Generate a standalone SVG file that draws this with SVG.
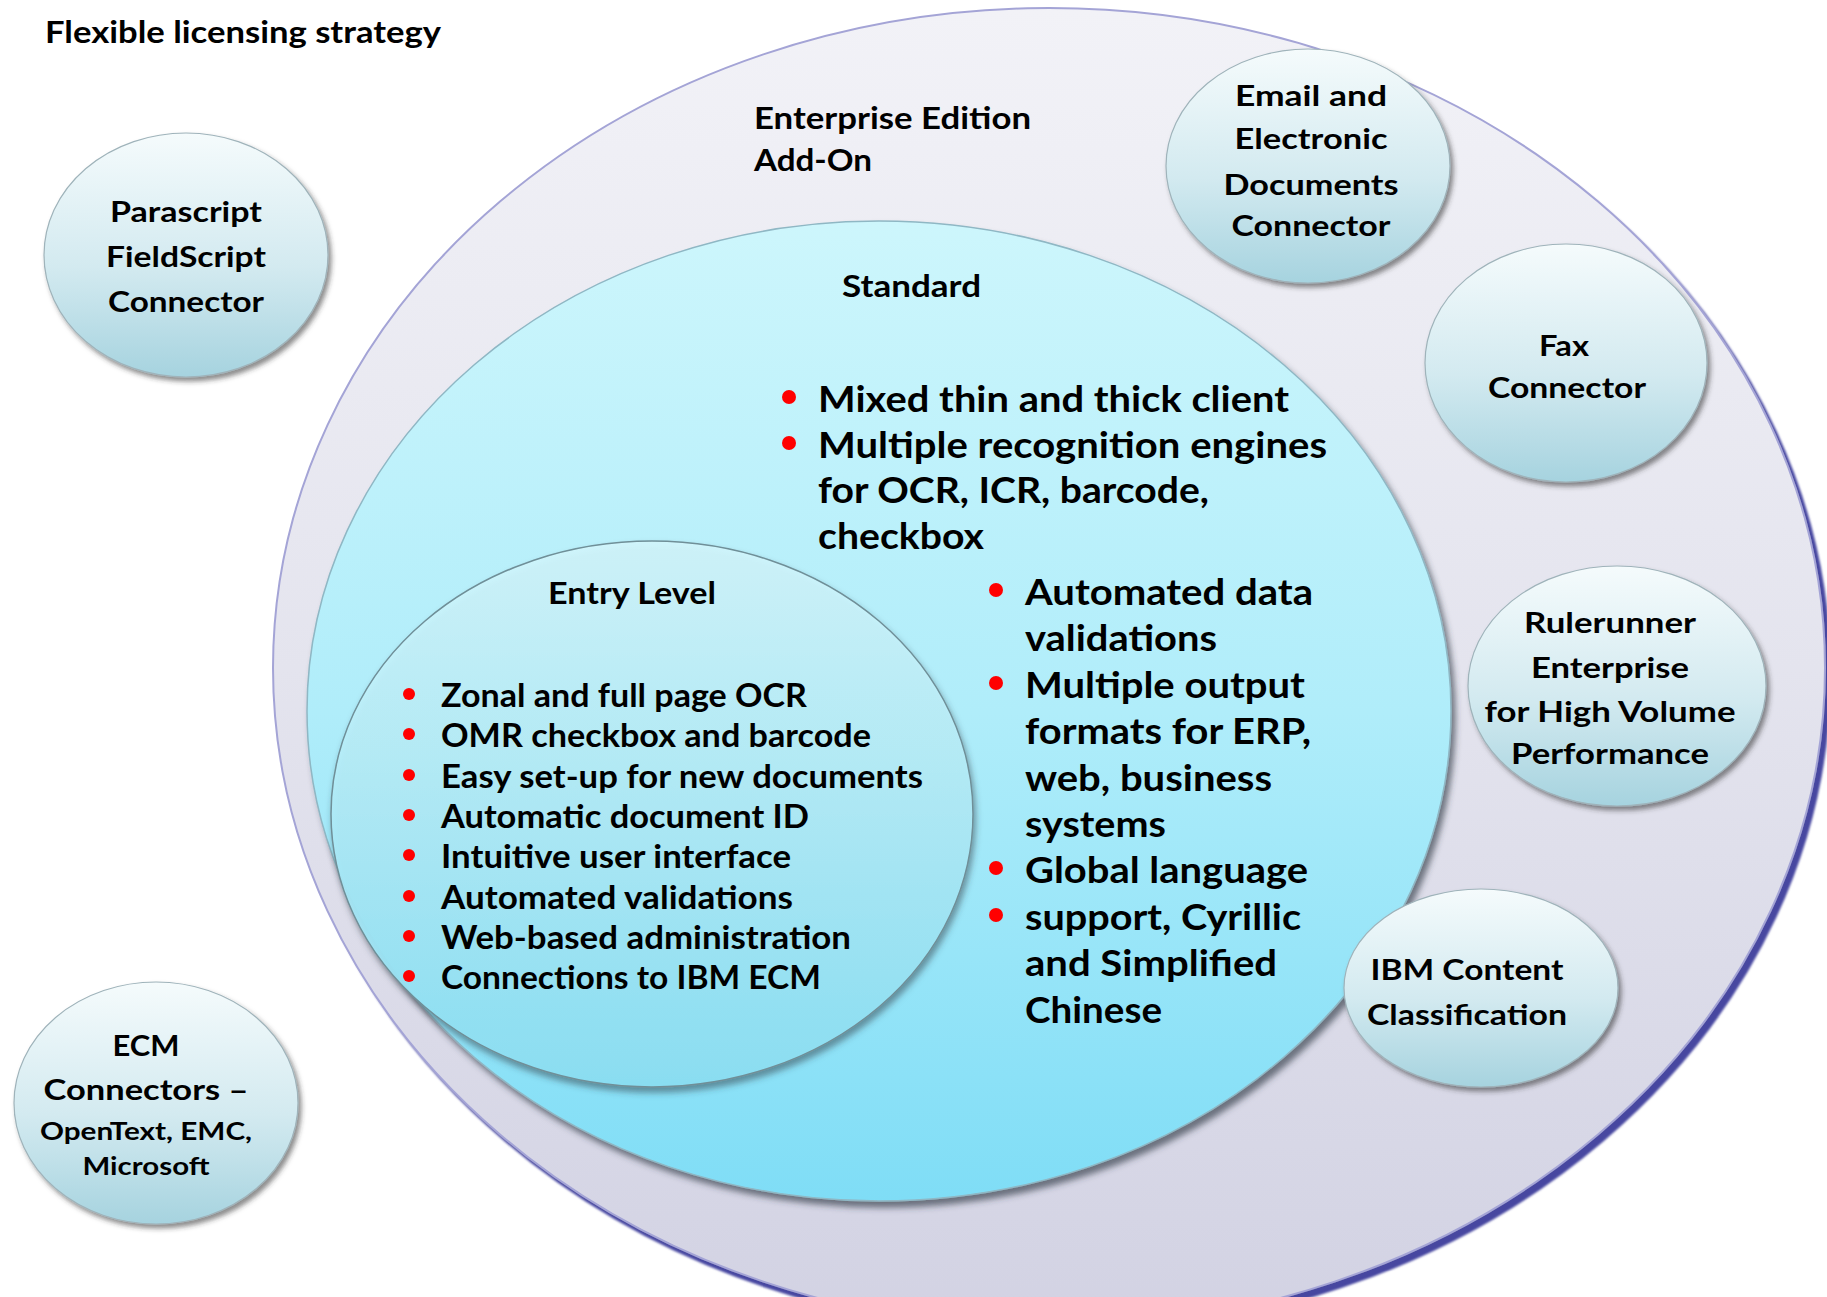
<svg xmlns="http://www.w3.org/2000/svg" width="1827" height="1297" viewBox="0 0 1827 1297">
<defs>
<style>
.t{font-family:"Lato","Open Sans","Liberation Sans",sans-serif;font-weight:bold;fill:#000}
.c{text-anchor:middle}
.b{fill:#FF0000}
.node{stroke:#9FB3BA;stroke-width:1.2}
</style>
<linearGradient id="gOuter" x1="0" y1="0" x2="0" y2="1">
<stop offset="0" stop-color="#F2F2F7"/>
<stop offset="0.5" stop-color="#E4E4EE"/>
<stop offset="1" stop-color="#D2D2E3"/>
</linearGradient>
<linearGradient id="gStd" x1="0" y1="0" x2="0" y2="1">
<stop offset="0" stop-color="#CDF6FC"/>
<stop offset="0.5" stop-color="#B0EDFA"/>
<stop offset="1" stop-color="#7FDDF6"/>
</linearGradient>
<linearGradient id="gEntry" x1="0" y1="0" x2="0" y2="1">
<stop offset="0" stop-color="#D2F6FC"/>
<stop offset="0.5" stop-color="#B0ECF9"/>
<stop offset="1" stop-color="#8CE1F6"/>
</linearGradient>
<linearGradient id="gNode" x1="0" y1="0" x2="0" y2="1">
<stop offset="0" stop-color="#F5FBFC"/>
<stop offset="0.55" stop-color="#D3EAF0"/>
<stop offset="1" stop-color="#A6D3DF"/>
</linearGradient>
<filter id="shOuter" x="-5%" y="-5%" width="112%" height="112%">
<feDropShadow dx="5" dy="6" stdDeviation="1.2" flood-color="#4646A0" flood-opacity="1"/>
</filter>
<filter id="shStd" x="-5%" y="-5%" width="115%" height="115%">
<feDropShadow dx="4" dy="6" stdDeviation="3" flood-color="#2E3A44" flood-opacity="0.65"/>
</filter>
<filter id="shEntry" x="-5%" y="-5%" width="115%" height="115%">
<feDropShadow dx="2" dy="5" stdDeviation="3" flood-color="#2E3A44" flood-opacity="0.55"/>
</filter>
<filter id="shNode" x="-10%" y="-10%" width="125%" height="125%">
<feDropShadow dx="3" dy="4" stdDeviation="2.5" flood-color="#303030" flood-opacity="0.55"/>
</filter>
</defs>

<rect width="1827" height="1297" fill="#FFFFFF"/>

<g id="title">
<text class="t" x="45" y="43" font-size="31" textLength="396" lengthAdjust="spacingAndGlyphs">Flexible licensing strategy</text>
</g>

<g id="node-enterprise">
<ellipse cx="1049" cy="668" rx="776" ry="660" fill="url(#gOuter)" stroke="#A4A4D6" stroke-width="2" filter="url(#shOuter)"/>
<text class="t" x="754" y="129" font-size="31" textLength="277" lengthAdjust="spacingAndGlyphs">Enterprise Edition</text>
<text class="t" x="754" y="171" font-size="31" textLength="118" lengthAdjust="spacingAndGlyphs">Add-On</text>
</g>

<g id="node-standard">
<ellipse cx="879" cy="711" rx="572" ry="490" fill="url(#gStd)" stroke="#8FB7C4" stroke-width="1.5" filter="url(#shStd)"/>
<text class="t" x="842" y="297" font-size="31" textLength="139" lengthAdjust="spacingAndGlyphs">Standard</text>
<circle class="b" cx="789" cy="397" r="7"/>
<circle class="b" cx="789" cy="443" r="7"/>
<circle class="b" cx="996" cy="590" r="7"/>
<circle class="b" cx="996" cy="683" r="7"/>
<circle class="b" cx="996" cy="868" r="7"/>
<circle class="b" cx="996" cy="915" r="7"/>
<g font-size="36">
<text class="t" x="818" y="412" textLength="471" lengthAdjust="spacingAndGlyphs">Mixed thin and thick client</text>
<text class="t" x="818" y="458" textLength="509" lengthAdjust="spacingAndGlyphs">Multiple recognition engines</text>
<text class="t" x="818" y="503" textLength="391" lengthAdjust="spacingAndGlyphs">for OCR, ICR, barcode,</text>
<text class="t" x="818" y="549" textLength="166" lengthAdjust="spacingAndGlyphs">checkbox</text>
<text class="t" x="1025" y="605" textLength="288" lengthAdjust="spacingAndGlyphs">Automated data</text>
<text class="t" x="1025" y="651" textLength="192" lengthAdjust="spacingAndGlyphs">validations</text>
<text class="t" x="1025" y="698" textLength="280" lengthAdjust="spacingAndGlyphs">Multiple output</text>
<text class="t" x="1025" y="744" textLength="286" lengthAdjust="spacingAndGlyphs">formats for ERP,</text>
<text class="t" x="1025" y="791" textLength="247" lengthAdjust="spacingAndGlyphs">web, business</text>
<text class="t" x="1025" y="837" textLength="141" lengthAdjust="spacingAndGlyphs">systems</text>
<text class="t" x="1025" y="883" textLength="283" lengthAdjust="spacingAndGlyphs">Global language</text>
<text class="t" x="1025" y="930" textLength="276" lengthAdjust="spacingAndGlyphs">support, Cyrillic</text>
<text class="t" x="1025" y="976" textLength="252" lengthAdjust="spacingAndGlyphs">and Simplified</text>
<text class="t" x="1025" y="1023" textLength="137" lengthAdjust="spacingAndGlyphs">Chinese</text>
</g>
</g>

<g id="node-entry">
<ellipse cx="652" cy="814" rx="321" ry="273" fill="url(#gEntry)" fill-opacity="0.9" stroke="#6F8F98" stroke-width="1.5" filter="url(#shEntry)"/>
<text class="t" x="548" y="604" font-size="30" textLength="168" lengthAdjust="spacingAndGlyphs">Entry Level</text>
<circle class="b" cx="409" cy="694" r="6"/>
<circle class="b" cx="409" cy="734" r="6"/>
<circle class="b" cx="409" cy="775" r="6"/>
<circle class="b" cx="409" cy="815" r="6"/>
<circle class="b" cx="409" cy="855" r="6"/>
<circle class="b" cx="409" cy="896" r="6"/>
<circle class="b" cx="409" cy="936" r="6"/>
<circle class="b" cx="409" cy="976" r="6"/>
<g font-size="32">
<text class="t" x="441" y="707" textLength="366" lengthAdjust="spacingAndGlyphs">Zonal and full page OCR</text>
<text class="t" x="441" y="747" textLength="430" lengthAdjust="spacingAndGlyphs">OMR checkbox and barcode</text>
<text class="t" x="441" y="788" textLength="482" lengthAdjust="spacingAndGlyphs">Easy set-up for new documents</text>
<text class="t" x="441" y="828" textLength="368" lengthAdjust="spacingAndGlyphs">Automatic document ID</text>
<text class="t" x="441" y="868" textLength="350" lengthAdjust="spacingAndGlyphs">Intuitive user interface</text>
<text class="t" x="441" y="909" textLength="352" lengthAdjust="spacingAndGlyphs">Automated validations</text>
<text class="t" x="441" y="949" textLength="410" lengthAdjust="spacingAndGlyphs">Web-based administration</text>
<text class="t" x="441" y="989" textLength="380" lengthAdjust="spacingAndGlyphs">Connections to IBM ECM</text>
</g>
</g>

<g id="node-parascript">
<ellipse class="node" cx="186" cy="255" rx="142" ry="122" fill="url(#gNode)" filter="url(#shNode)"/>
<g font-size="28">
<text class="t c" x="186" y="222" textLength="152" lengthAdjust="spacingAndGlyphs">Parascript</text>
<text class="t c" x="186" y="267" textLength="160" lengthAdjust="spacingAndGlyphs">FieldScript</text>
<text class="t c" x="186" y="312" textLength="156" lengthAdjust="spacingAndGlyphs">Connector</text>
</g>
</g>

<g id="node-email">
<ellipse class="node" cx="1308" cy="166" rx="142" ry="117" fill="url(#gNode)" filter="url(#shNode)"/>
<g font-size="28">
<text class="t c" x="1311" y="106" textLength="152" lengthAdjust="spacingAndGlyphs">Email and</text>
<text class="t c" x="1311" y="149" textLength="153" lengthAdjust="spacingAndGlyphs">Electronic</text>
<text class="t c" x="1311" y="195" textLength="175" lengthAdjust="spacingAndGlyphs">Documents</text>
<text class="t c" x="1311" y="236" textLength="159" lengthAdjust="spacingAndGlyphs">Connector</text>
</g>
</g>

<g id="node-fax">
<ellipse class="node" cx="1566" cy="363" rx="141" ry="119" fill="url(#gNode)" filter="url(#shNode)"/>
<g font-size="28">
<text class="t c" x="1564" y="356" textLength="50" lengthAdjust="spacingAndGlyphs">Fax</text>
<text class="t c" x="1567" y="398" textLength="158" lengthAdjust="spacingAndGlyphs">Connector</text>
</g>
</g>

<g id="node-rulerunner">
<ellipse class="node" cx="1617" cy="686" rx="149" ry="120" fill="url(#gNode)" filter="url(#shNode)"/>
<g font-size="28">
<text class="t c" x="1610" y="633" textLength="172" lengthAdjust="spacingAndGlyphs">Rulerunner</text>
<text class="t c" x="1610" y="678" textLength="158" lengthAdjust="spacingAndGlyphs">Enterprise</text>
<text class="t c" x="1610" y="722" textLength="251" lengthAdjust="spacingAndGlyphs">for High Volume</text>
<text class="t c" x="1610" y="764" textLength="198" lengthAdjust="spacingAndGlyphs">Performance</text>
</g>
</g>

<g id="node-ibm">
<ellipse class="node" cx="1481" cy="988" rx="137" ry="99" fill="url(#gNode)" filter="url(#shNode)"/>
<g font-size="28">
<text class="t c" x="1467" y="980" textLength="193" lengthAdjust="spacingAndGlyphs">IBM Content</text>
<text class="t c" x="1467" y="1025" textLength="200" lengthAdjust="spacingAndGlyphs">Classification</text>
</g>
</g>

<g id="node-ecm">
<ellipse class="node" cx="156" cy="1103" rx="142" ry="121" fill="url(#gNode)" filter="url(#shNode)"/>
<text class="t c" x="146" y="1056" font-size="28" textLength="67" lengthAdjust="spacingAndGlyphs">ECM</text>
<text class="t c" x="146" y="1100" font-size="28" textLength="205" lengthAdjust="spacingAndGlyphs">Connectors –</text>
<text class="t c" x="146" y="1140" font-size="24" textLength="212" lengthAdjust="spacingAndGlyphs">OpenText, EMC,</text>
<text class="t c" x="146" y="1175" font-size="24" textLength="127" lengthAdjust="spacingAndGlyphs">Microsoft</text>
</g>

<g id="connectors"></g>
</svg>
